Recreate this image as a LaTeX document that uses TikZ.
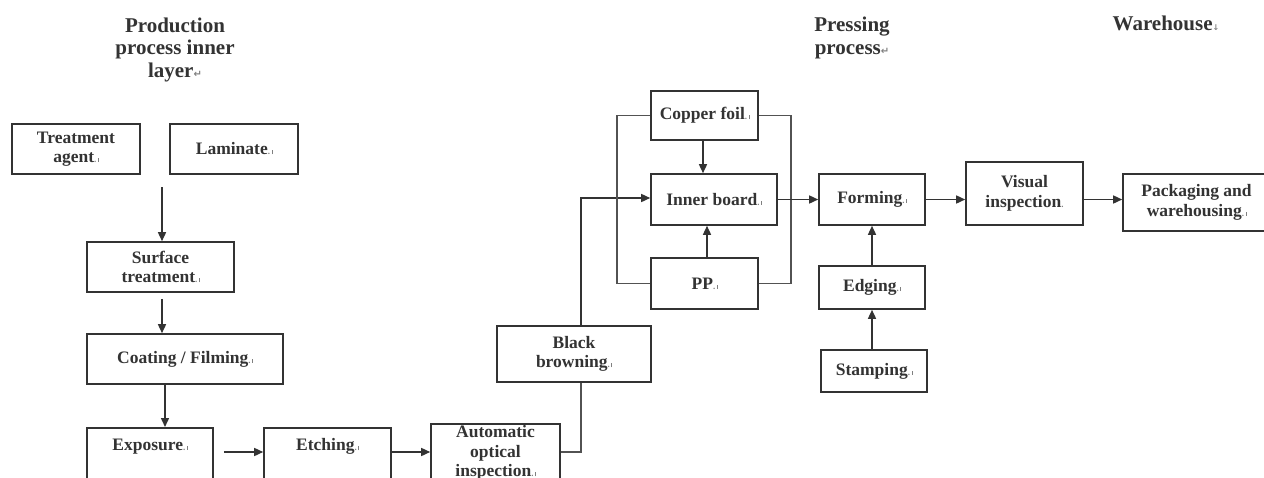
\documentclass[tikz,border=0pt]{standalone}
\usepackage{fontspec}
\setmainfont{Liberation Serif}
\newfontfamily\symfont{DejaVu Sans}
\usetikzlibrary{arrows.meta}

\definecolor{ink}{HTML}{333333}
\newcommand\cellfont{\fontsize{17.5}{19.5}\selectfont\bfseries}
\newcommand\hdfont{\fontsize{21}{22.5}\selectfont\bfseries}
\newcommand\pmk{{\color{gray}\fontsize{9}{9}\selectfont.\,\rule[0.5pt]{0.6pt}{4pt}}}
\newcommand\retmk{{\color{gray}\symfont\fontsize{10}{10}\selectfont ↵}}
\newcommand\dnmk{{\color{gray}\symfont\fontsize{8}{8}\selectfont ↓}}

\tikzset{
  box/.style={draw=ink, line width=1.6pt, inner sep=0pt, align=center, font=\cellfont, text=ink},
  openbox/.style={box, anchor=north, inner ysep=11pt, text depth=60pt},
  arr/.style={draw=ink, line width=1.5pt, -{Triangle[length=9pt,width=8pt]}},
  line/.style={draw=ink!85, line width=1.5pt},
  heading/.style={align=center, font=\hdfont, text=ink, inner sep=0pt, anchor=north},
}

\begin{document}
\begin{tikzpicture}[x=1pt, y=-1pt]
  \useasboundingbox (0,0) rectangle (1264,477);
  \clip (0,0) rectangle (1264,477);

  % headings
  \node[heading] (hinner) at (175,17.5) {Production\\process inner\\layer\retmk};
  \node[heading] (hpress) at (852,17) {Pressing\\process\retmk};
  \node[heading] (hware) at (1166,16) {Warehouse\dnmk};

  % inner layer
  \node[box, minimum width=128pt, minimum height=50pt] (agent) at (76,149) {Treatment\\agent\pmk};
  \node[box, minimum width=128pt, minimum height=50pt] (laminate) at (234,149) {Laminate\pmk};
  \node[box, minimum width=147pt, minimum height=50pt] (surface) at (160.5,267) {Surface\\treatment\pmk};
  \node[box, minimum width=196pt, minimum height=50pt] (coating) at (185,359) {Coating / Filming\pmk};
  \node[openbox, minimum width=126pt] (exposure) at (150,427) {Exposure\pmk};
  \node[openbox, minimum width=127pt] (etching) at (327.5,427) {Etching\pmk};
  \node[openbox, minimum width=129pt, inner ysep=2pt] (aoi) at (495.5,423) {Automatic\\optical\\inspection\pmk};
  \node[box, minimum width=154pt, minimum height=56pt] (black) at (574,354) {Black\\browning\pmk};

  % pressing
  \node[box, minimum width=107pt, minimum height=49pt] (copper) at (704.5,115.5) {Copper foil\pmk};
  \node[box, minimum width=126pt, minimum height=51pt] (inner) at (714,199.5) {Inner board\pmk};
  \node[box, minimum width=107pt, minimum height=51pt] (pp) at (704.5,283.5) {PP\pmk};
  \node[box, minimum width=106pt, minimum height=51pt] (forming) at (872,199.5) {Forming\pmk};
  \node[box, minimum width=106pt, minimum height=43pt] (edging) at (872,287.5) {Edging\pmk};
  \node[box, minimum width=106pt, minimum height=42pt] (stamping) at (874,371) {Stamping\pmk};

  % warehouse
  \node[box, minimum width=117pt, minimum height=63pt] (visual) at (1024.5,193.5) {Visual\\inspection{\color{gray}\fontsize{9}{9}\selectfont.}};
  \node[box, minimum width=147pt, minimum height=57pt] (packing) at (1196.5,202.5) {Packaging and\\warehousing\pmk};

  \coordinate (split) at (162,187);
  \coordinate (rowA) at (0,452);
  \coordinate (riser) at (581,0);
  \coordinate (leftrail) at (617,0);
  \coordinate (rightrail) at (791,0);

  \draw[arr] (split) -- (split |- surface.north);
  \draw[arr, shorten <=6pt] ([xshift=1.5pt]surface.south) -- ([xshift=1.5pt]surface.south |- coating.north);
  \draw[arr] ([xshift=-20pt]coating.south) -- ([xshift=-20pt]coating.south |- exposure.north);
  \draw[arr, shorten <=10pt] (exposure.east |- rowA) -- (etching.west |- rowA);
  \draw[arr] (etching.east |- rowA) -- (aoi.west |- rowA);
  \draw[line] (aoi.east |- rowA) -| (riser |- black.south);
  \draw[arr] (riser |- black.north) |- ([yshift=1.5pt]inner.west);
  \draw[arr] ([xshift=-1.5pt]copper.south) -- ([xshift=-1.5pt]copper.south |- inner.north);
  \draw[arr] ([xshift=2.5pt]pp.north) -- ([xshift=2.5pt]pp.north |- inner.south);
  \draw[line] (copper.west) -| (leftrail |- pp.west) -- (pp.west);
  \draw[line] (copper.east) -| (rightrail |- pp.east) -- (pp.east);
  \draw[arr] (inner.east) -- (inner.east -| forming.west);
  \draw[arr] (forming.east) -- (forming.east -| visual.west);
  \draw[arr] (forming.east -| visual.east) -- (forming.east -| packing.west);
  \draw[arr] (edging.north) -- (forming.south);
  \draw[arr] ([xshift=-2pt]stamping.north) -- ([xshift=-2pt]stamping.north |- edging.south);
\end{tikzpicture}
\end{document}
